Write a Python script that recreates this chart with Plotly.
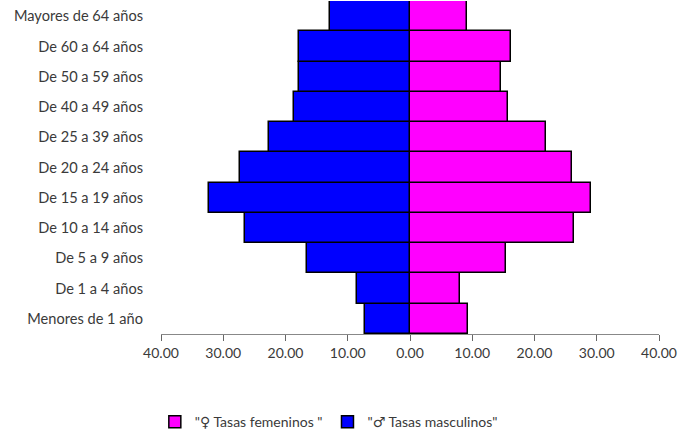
import plotly.graph_objects as go

categorias = ["Menores de 1 año", "De 1 a 4 años", "De 5 a 9 años", "De 10 a 14 años",
              "De 15 a 19 años", "De 20 a 24 años", "De 25 a 39 años", "De 40 a 49 años",
              "De 50 a 59 años", "De 60 a 64 años", "Mayores de 64 años"]
femeninos = [9.25, 8.07, 15.41, 26.42, 29.05, 26.0, 21.77, 15.67, 14.65, 16.21, 9.15]
masculinos = [7.17, 8.46, 16.48, 26.55, 32.37, 27.35, 22.58, 18.68, 17.77, 17.77, 12.84]
tick_vals = [-40, -30, -20, -10, 0, 10, 20, 30, 40]
tick_text = ["40.00", "30.00", "20.00", "10.00", "0.00", "10.00", "20.00", "30.00", "40.00"]

font_fam = "Lato, 'Open Sans', sans-serif"
sym = '<span style="font-family:DejaVu Sans;font-size:14px">{}</span>'

fig = go.Figure()
fig.add_trace(go.Bar(
    y=categorias, x=femeninos, orientation="h",
    name='"' + sym.format("♀") + ' Tasas femeninos "',
    marker=dict(color="#FF00FF", line=dict(color="black", width=1.5)),
))
fig.add_trace(go.Bar(
    y=categorias, x=[-v for v in masculinos], orientation="h",
    name='"' + sym.format("♂") + ' Tasas masculinos"',
    marker=dict(color="#0000FF", line=dict(color="black", width=1.5)),
))

fig.update_layout(
    width=678, height=432,
    barmode="relative", bargap=0,
    plot_bgcolor="white", paper_bgcolor="white",
    margin=dict(l=161, r=19, t=1, b=98, autoexpand=False),
    font=dict(family=font_fam, size=14, color="#3a3a3a"),
    showlegend=True,
    legend=dict(orientation="h", x=0.337, xanchor="center", y=-0.265, yanchor="middle",
                traceorder="normal", itemwidth=30,
                font=dict(size=14, color="#3a3a3a")),
    xaxis=dict(range=[-40, 40], tickvals=tick_vals, ticktext=tick_text, automargin=False,
               showgrid=False, zeroline=False, showline=True, linecolor="#888888",
               linewidth=1, ticks="outside", ticklen=6, tickcolor="#666666",
               tickfont=dict(size=14)),
    yaxis=dict(categoryorder="array", categoryarray=categorias, range=[-0.5, 10.5],
               automargin=False,
               showgrid=False, zeroline=False, showline=False, ticks="",
               ticklabelstandoff=17, tickfont=dict(size=14.6)),
)

fig.write_html("out.html", config={"displayModeBar": False},
               post_script="document.body.style.margin='0';")
